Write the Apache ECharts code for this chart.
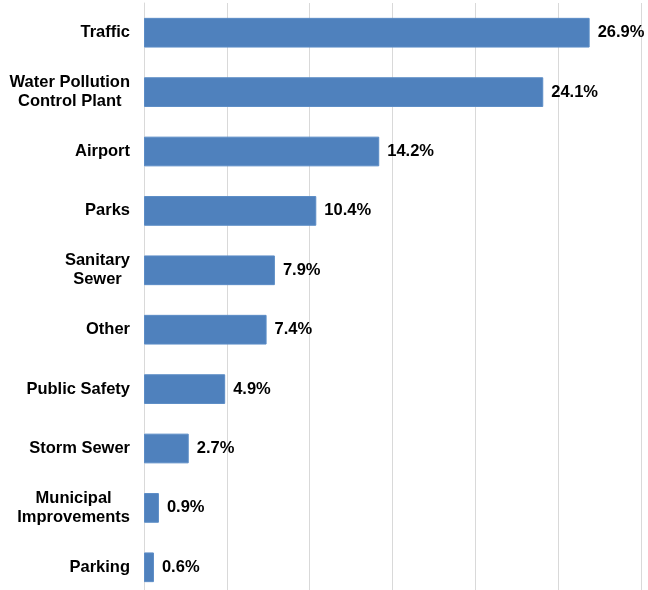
<!DOCTYPE html>
<html>
<head>
<meta charset="utf-8">
<script src="https://cdn.jsdelivr.net/npm/echarts@6/dist/echarts.min.js"></script>
<style>
html, body { margin: 0; padding: 0; background: #fff; overflow: hidden; }
#main { width: 648px; height: 600px; }
</style>
</head>
<body>
<div id="main"></div>
<script>
// categories top -> bottom
var categories = ['Traffic', 'Water Pollution\nControl Plant', 'Airport', 'Parks', 'Sanitary\nSewer',
  'Other', 'Public Safety', 'Storm Sewer', 'Municipal\nImprovements', 'Parking']
var shares = [26.9, 24.1, 14.2, 10.4, 7.9, 7.4, 4.9, 2.7, 0.9, 0.6]
var xTicks = [0, 5, 10, 15, 20, 25, 30]

var chart = echarts.init(document.getElementById('main'))

// centre each line of multi-line labels
function catLabel(v) {
  return v.split('\n').map(function(s) { return '{c|' + s + '}' }).join('\n')
}

chart.setOption({
  animation: false,
  grid: {
    left: 144,
    right: 7,
    top: 3,
    bottom: 3
  },
  xAxis: {
    type: 'value',
    min: xTicks[0],
    max: xTicks[xTicks.length - 1],
    interval: 5,
    axisLabel: { show: false },
    axisTick: { show: false },
    axisLine: { show: false },
    splitLine: { lineStyle: { color: '#d9d9d9', width: 1 } }
  },
  yAxis: {
    type: 'category',
    inverse: true,
    data: categories,
    axisTick: { show: false },
    axisLine: { show: true, lineStyle: { color: '#d9d9d9' } },
    axisLabel: {
      margin: 14,
      formatter: catLabel,
      rich: {
        c: {
          align: 'center',
          fontFamily: 'Liberation Sans, Arial, sans-serif',
          fontWeight: 'bold',
          fontSize: 16.5,
          lineHeight: 19,
          color: '#000'
        }
      }
    }
  },
  series: [{
    type: 'bar',
    data: shares,
    barWidth: '50%',
    itemStyle: { color: '#4f81bd', borderColor: '#5b8cc6', borderWidth: 1 },
    label: {
      show: true,
      position: 'right',
      distance: 8,
      formatter: function(p) { return p.value.toFixed(1) + '%' },
      fontFamily: 'Liberation Sans, Arial, sans-serif',
      fontWeight: 'bold',
      fontSize: 16.5,
      color: '#000'
    }
  }]
})
</script>
</body>
</html>
